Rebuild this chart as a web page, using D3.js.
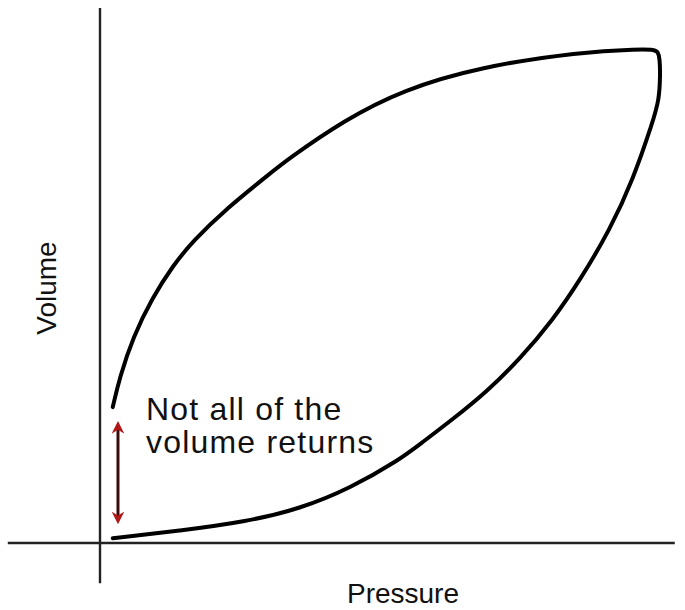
<!DOCTYPE html>
<html>
<head>
<meta charset="utf-8">
<script src="https://cdn.jsdelivr.net/npm/d3@7"></script>
<style>
  body { margin: 0; background: #fff; }
  text { font-family: "Liberation Sans", Arial, sans-serif; fill: #111; }
</style>
</head>
<body>
<script>
// Pressure / volume hysteresis loop (arbitrary units)
const inflation = [ // lower branch, filling from low pressure
  [2.2, 0.9], [13.8, 2.3], [25.3, 4.0], [34.5, 6.4], [43.1, 10.2], [51.7, 15.6],
  [55.2, 18.5], [60.9, 23.2], [66.7, 28.3], [72.4, 34.4], [78.1, 41.7],
  [82.8, 49.2], [87.9, 58.5], [91.9, 67.9], [95.3, 78.7], [96.4, 82.8],
  [96.6, 87.5], [96.5, 90.6], [96.2, 91.8]
];
const deflation = [ // upper branch, emptying back toward zero pressure
  [96.2, 91.8], [95.6, 92.2], [93.1, 92.3], [82.8, 91.8], [65.5, 89.0],
  [52.2, 84.7], [42.2, 79.1], [32.2, 71.6], [28.8, 68.6], [21.9, 62.6],
  [16.0, 56.4], [12.6, 51.9], [9.0, 45.8], [5.7, 38.5], [3.4, 31.0], [2.2, 25.4]
];
const xAxisExtent = [-15.9, 99.1];
const yAxisExtent = [-7.5, 100];
const gapArrow = { p: 3.1, from: 3.7, to: 22.6 };
const noteLines = ["Not all of the", "volume returns"];
const xLabel = "Pressure";
const yLabel = "Volume";

const width = 685, height = 610;
const svg = d3.select('body').append('svg')
  .attr('width', width)
  .attr('height', height);

const x = d3.scaleLinear().domain([0, 100]).range([100, 680]);
const y = d3.scaleLinear().domain([0, 100]).range([543, 8]);

// axes as plain crossing lines
svg.append('line')
  .attr('x1', x(xAxisExtent[0])).attr('x2', x(xAxisExtent[1]))
  .attr('y1', y(0)).attr('y2', y(0))
  .attr('stroke', '#222').attr('stroke-width', 2.4);
svg.append('line')
  .attr('x1', x(0)).attr('x2', x(0))
  .attr('y1', y(yAxisExtent[0])).attr('y2', y(yAxisExtent[1]))
  .attr('stroke', '#222').attr('stroke-width', 2.4);

// basis spline smooths out the reading noise in the traced points
const line = d3.line()
  .x(d => x(d[0]))
  .y(d => y(d[1]))
  .curve(d3.curveBasis);

svg.append('path')
  .datum(inflation.concat(deflation.slice(1)))
  .attr('d', line)
  .attr('fill', 'none')
  .attr('stroke', '#000')
  .attr('stroke-width', 4)
  .attr('stroke-linejoin', 'round')
  .attr('stroke-linecap', 'round');

// double headed arrow showing the volume that does not come back
const defs = svg.append('defs');
defs.append('marker')
  .attr('id', 'head')
  .attr('viewBox', '0 0 10 10')
  .attr('refX', 6).attr('refY', 5)
  .attr('markerWidth', 4.2).attr('markerHeight', 4.2)
  .attr('orient', 'auto-start-reverse')
  .append('path')
  .attr('d', 'M0,0 L10,5 L0,10 L3,5 Z')
  .attr('fill', '#b01818');

svg.append('line')
  .attr('x1', x(gapArrow.p)).attr('x2', x(gapArrow.p))
  .attr('y1', y(gapArrow.from) - 4).attr('y2', y(gapArrow.to) + 4)
  .attr('stroke', '#3a0c0c')
  .attr('stroke-width', 3)
  .attr('marker-start', 'url(#head)')
  .attr('marker-end', 'url(#head)');

svg.selectAll('text.note')
  .data(noteLines)
  .join('text')
  .attr('class', 'note')
  .attr('x', 146)
  .attr('y', (d, i) => 420 + i * 33)
  .attr('font-size', 32)
  .attr('letter-spacing', 1.2)
  .text(d => d);

svg.append('text')
  .attr('x', 403)
  .attr('y', 603)
  .attr('text-anchor', 'middle')
  .attr('font-size', 28)
  .text(xLabel);

svg.append('text')
  .attr('transform', 'translate(56,288) rotate(-90)')
  .attr('text-anchor', 'middle')
  .attr('font-size', 28)
  .text(yLabel);
</script>
</body>
</html>
